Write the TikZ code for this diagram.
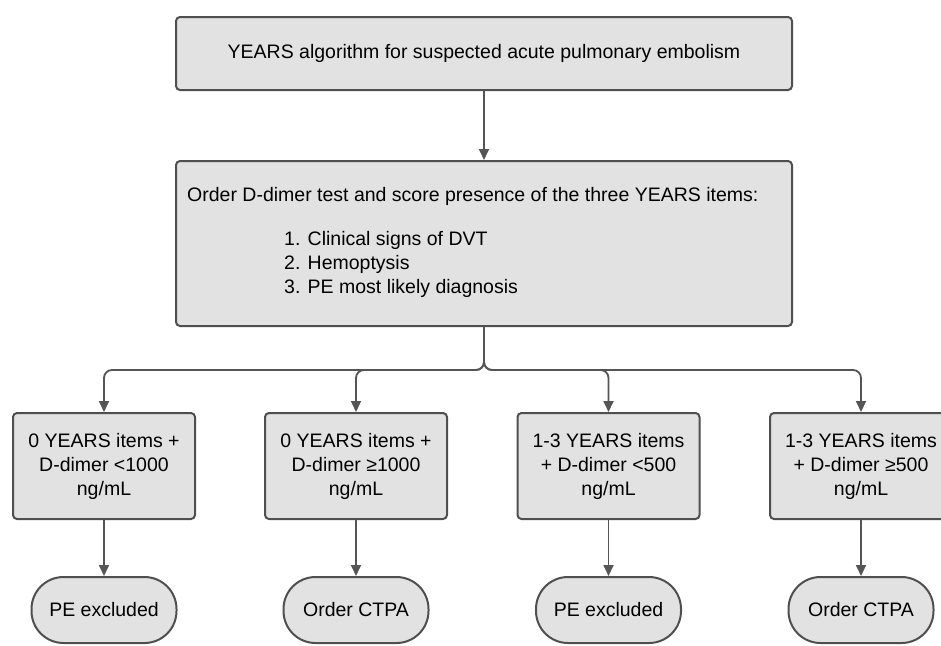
\documentclass[tikz,border=0pt]{standalone}
\usepackage{fontspec}
\setmainfont{Liberation Sans}
\usetikzlibrary{arrows.meta}
\definecolor{boxfill}{HTML}{E2E2E2}
\definecolor{boxline}{HTML}{4F4F4F}
\definecolor{conncol}{HTML}{555555}
\tikzset{
  box/.style={draw=boxline, fill=boxfill, line width=2pt, rounded corners=4pt, inner sep=0pt},
  ovalbox/.style={draw=boxline, fill=boxfill, line width=2pt, rounded corners=32pt, inner sep=0pt,
    minimum width=145pt, minimum height=66pt},
  leafbox/.style={box, minimum width=182pt, minimum height=106pt, align=center},
  txt/.style={inner sep=0pt, font=\fontsize{19.5}{24}\selectfont},
  conn/.style={draw=conncol, line width=1.8pt, -{Triangle[length=11pt,width=10pt]}},
}
\begin{document}
\begin{tikzpicture}[x=1pt,y=-1pt]
\useasboundingbox (0,0) rectangle (941,645);
\clip (0,0) rectangle (941,645);
% top box
\node[box, minimum width=616pt, minimum height=73pt, txt] (top) at (484,53.5)
  {YEARS algorithm for suspected acute pulmonary embolism};
% middle box
\node[box, minimum width=616pt, minimum height=165pt] (mid) at (484,243.5) {};
\node[txt, anchor=west] (midhead) at (187,196)
  {Order D-dimer test and score presence of the three YEARS items:};
\node[txt, anchor=north west, align=left] (miditems) at (284,231)
  {1. Clinical signs of DVT\\2. Hemoptysis\\3. PE most likely diagnosis};
% leaf boxes
\node[leafbox, txt] (b1) at (104,466) {0 YEARS items +\\D-dimer <1000\\ng/mL};
\node[leafbox, txt] (b2) at (356,466) {0 YEARS items +\\D-dimer ≥1000\\ng/mL};
\node[leafbox, txt] (b3) at (608.5,466) {1-3 YEARS items\\+ D-dimer <500\\ng/mL};
\node[leafbox, txt] (b4) at (861,466) {1-3 YEARS items\\+ D-dimer ≥500\\ng/mL};
% ovals
\node[ovalbox, txt] (o1) at (104,610) {PE excluded};
\node[ovalbox, txt] (o2) at (356,610) {Order CTPA};
\node[ovalbox, txt] (o3) at (608.5,610) {PE excluded};
\node[ovalbox, txt] (o4) at (861,610) {Order CTPA};
% connectors
\coordinate (junc) at (484,370);
\draw[conn] (top.south) -- (mid.north);
\draw[conn, rounded corners=8pt] (mid.south) -- (junc) -| (b1.north);
\draw[conn, rounded corners=8pt] (mid.south) -- (junc) -| (b2.north);
\draw[conn, rounded corners=8pt] (mid.south) -- (junc) -| (b3.north);
\draw[conn, rounded corners=8pt] (mid.south) -- (junc) -| (b4.north);
\draw[conn] (b1.south) -- (o1.north);
\draw[conn] (b2.south) -- (o2.north);
\draw[conn] (b3.south) -- (o3.north);
\draw[conn] (b4.south) -- (o4.north);
\end{tikzpicture}
\end{document}
